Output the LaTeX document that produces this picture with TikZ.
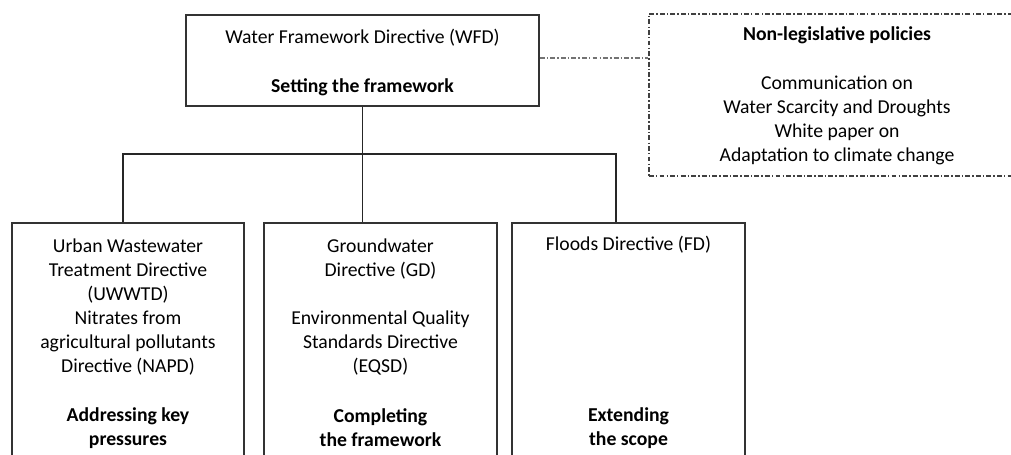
\documentclass[tikz,border=0pt]{standalone}
\usepackage{fontspec}
\setmainfont{Carlito}
\usetikzlibrary{calc}

\tikzset{
	box/.style = {draw = black!80, line width = 1.1pt, minimum width = #1, inner sep = 0pt},
	txt/.style = {align = center, inner sep = 0pt, font = \fontsize{14}{17}\selectfont},
	tree/.style = {draw = black!85, line width = 1.1pt},
	dashdot/.style = {line width = 0.9pt, dash pattern = on 3.5pt off 1.5pt on 1pt off 1.5pt}
}

\begin{document}
\begin{tikzpicture}[x = 0.025cm, y = -0.025cm]
		\useasboundingbox (0,0) rectangle (1011,454);
		\clip (0,0) rectangle (1011,454);
		% top box
		\node[box = 8.825cm, minimum height = 2.275cm] (wfd) at (362.5,60.5) {};
		\node[txt] (wfdname) at (362.5,38) {Water Framework Directive (WFD)};
		\node[txt] (wfdrole) at (362.5,87) {\textbf{Setting the framework}};
		% side box, runs past the right edge
		\node[box = 9.9cm, minimum height = 4.05cm, draw = black!75, dashdot] (nlp) at (847,95) {};
		\node[txt] (nlptitle) at (837,35) {\textbf{Non-legislative policies}};
		\node[txt] (nlpbody) at (837,120.5) {Communication on\\Water Scarcity and Droughts\\White paper on\\Adaptation to climate change};
		% lower boxes
		\node[box = 5.8cm, minimum height = 6.925cm] (uwwtd) at (128,361.5) {};
		\node[box = 5.825cm, minimum height = 6.925cm] (gd) at (380.5,361.5) {};
		\node[box = 5.825cm, minimum height = 6.925cm] (fd) at (628.5,361.5) {};
		\node[txt] (uwwtdtext) at (128,307) {Urban Wastewater\\Treatment Directive\\(UWWTD)\\Nitrates from\\agricultural pollutants\\Directive (NAPD)};
		\node[txt] (uwwtdrole) at (128,428) {\textbf{Addressing key}\\\textbf{pressures}};
		\node[txt] (gdtext) at (380.5,307) {Groundwater\\Directive (GD)\\[17pt]Environmental Quality\\Standards Directive\\(EQSD)};
		\node[txt] (gdrole) at (380.5,428) {\textbf{Completing}\\\textbf{the framework}};
		\node[txt] (fdtext) at (628.5,245) {Floods Directive (FD)};
		\node[txt] (fdrole) at (628.5,428) {\textbf{Extending}\\\textbf{the scope}};
		% connectors
		\coordinate (split) at ($(wfd.south)+(0,47)$);
		\draw[tree] (wfd.south) -- (wfd.south |- gd.north);
		\draw[tree] ($(uwwtd.north)+(-5,0)$) |- (split) -| ($(fd.north)+(-12.5,0)$);
		\draw[dashdot, black!55] ($(wfd.east)+(0,-2.5)$) -- ($(wfd.east -| nlp.west)+(0,-2.5)$);
	\end{tikzpicture}
\end{document}
